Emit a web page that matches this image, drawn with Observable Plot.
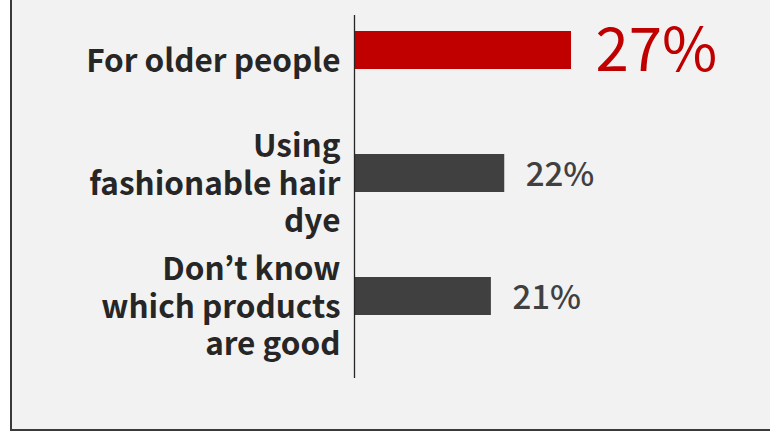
<!DOCTYPE html>
<html>
<head>
<meta charset="utf-8">
<script src="https://cdn.jsdelivr.net/npm/d3@7"></script>
<script src="https://cdn.jsdelivr.net/npm/@observablehq/plot@0.6"></script>
<style>
  html, body { margin: 0; padding: 0; background: #ffffff; }
  #frame {
    position: absolute; left: 10px; top: 0; width: 760px; height: 429px;
    background: #f2f2f2; border-left: 2px solid #3a3a3a; border-bottom: 2px solid #3a3a3a;
  }
  #chart { position: absolute; left: 0; top: 0; }
</style>
</head>
<body>
<div id="frame"></div>
<div id="chart"></div>
<script>
const categories = ["For older people", "Using\nfashionable hair\ndye", "Don’t know\nwhich products\nare good"];
const values = [27, 22, 21];
const valueLabels = ["27%", "22%", "21%"];
const barColors = ["#c00000", "#404040", "#404040"];
const labelSizes = [60, 33, 33];
const labelWeights = ["normal", "500", "500"];

const xMin = 10.75;
const xMax = 41.9;

const data = categories.map((c, i) => ({
  category: c, value: values[i], label: valueLabels[i], color: barColors[i], size: labelSizes[i]
}));

const plot = Plot.plot({
  width: 770,
  height: 433,
  marginLeft: 354,
  marginRight: 0,
  marginTop: 15,
  marginBottom: 55,
  style: { background: "transparent", fontFamily: "'Noto Sans CJK JP', 'Noto Sans', sans-serif" },
  x: { domain: [xMin, xMax], axis: null },
  y: { domain: categories, axis: null, paddingInner: 0.69, paddingOuter: 0, insetTop: 16, insetBottom: 62 },
  color: { type: "identity" },
  marks: [
    Plot.barX(data, { y: "category", x1: () => xMin, x2: "value", fill: "color" }),
    Plot.ruleX([xMin], { stroke: "#262626", strokeWidth: 1.3 }),
    Plot.text(data, {
      y: "category", x: () => xMin, text: "category", textAnchor: "end", dx: -14, dy: 9,
      fontSize: 31.5, fontWeight: "bold", fill: "#262626", lineHeight: 1.19
    }),
    Plot.text(data.slice(0, 1), {
      y: "category", x: "value", text: "label", textAnchor: "start", dx: 24, dy: 1,
      fontSize: labelSizes[0], fontWeight: labelWeights[0], fill: "color"
    }),
    Plot.text(data.slice(1), {
      y: "category", x: "value", text: "label", textAnchor: "start", dx: 21, dy: 2,
      fontSize: labelSizes[1], fontWeight: labelWeights[1], fill: "color"
    })
  ]
});
document.getElementById("chart").appendChild(plot);
</script>
</body>
</html>
